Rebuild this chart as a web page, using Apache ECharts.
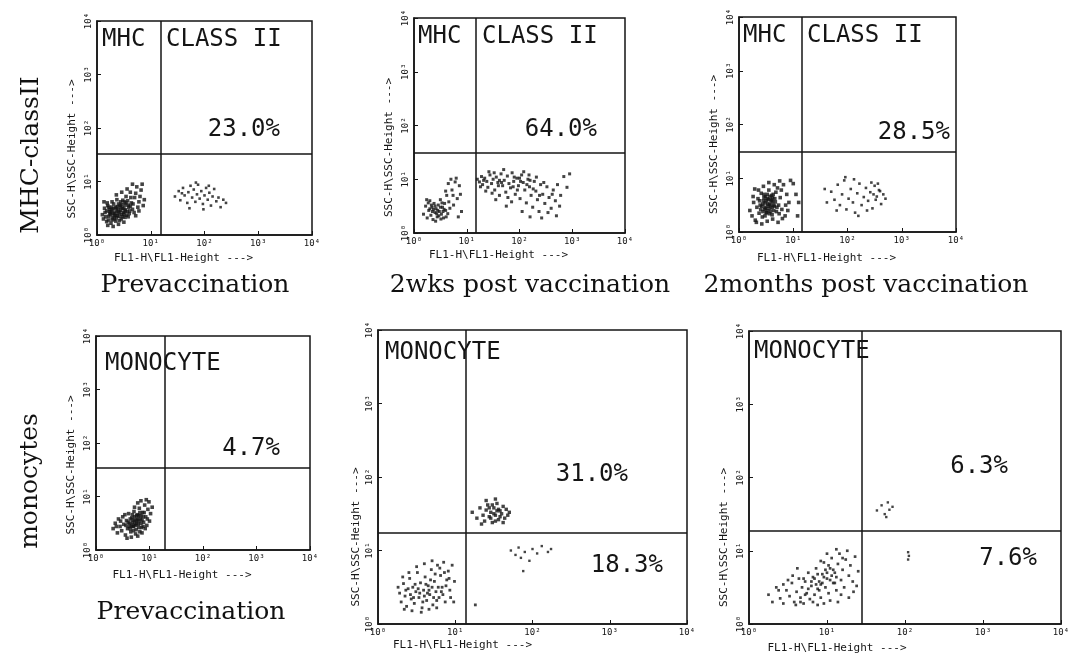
<!DOCTYPE html>
<html><head><meta charset="utf-8">
<script src="https://cdn.jsdelivr.net/npm/echarts@6/dist/echarts.min.js"></script>
<style>html,body{margin:0;padding:0;background:#fff}#c{width:1073px;height:657px}</style>
</head><body><div id="c"></div>
<script>
// ---- DATA (all positions on the axes are log10 decades: 0 = 10^0 ... 4 = 10^4) ----
const tickLabels = ['10⁰', '10¹', '10²', '10³', '10⁴'];
const xAxisName = 'FL1-H\\FL1-Height --->';
const yAxisName = 'SSC-H\\SSC-Height --->';
const rowLabels = ['MHC-classII', 'monocytes'];
const captions = ['Prevaccination', '2wks post vaccination', '2months post vaccination', 'Prevaccination'];
const gateTitles = [['MHC', 'CLASS II'], ['MHC', 'CLASS II'], ['MHC', 'CLASS II'], ['MONOCYTE'], ['MONOCYTE'], ['MONOCYTE']];
const percentLabels = [['23.0%'], ['64.0%'], ['28.5%'], ['4.7%'], ['31.0%', '18.3%'], ['6.3%', '7.6%']];
const gateX = [1.19, 1.18, 1.16, 1.29, 1.14, 1.44];
const gateY = [1.51, 1.49, 1.49, 1.53, 1.24, 1.27];

const p1Neg = [[0.12,0.30],[0.15,0.42],[0.18,0.25],[0.20,0.55],[0.22,0.35],[0.24,0.48],[0.26,0.22],[0.28,0.62],[0.30,0.40],[0.32,0.30],[0.34,0.52],[0.36,0.44],[0.38,0.36],[0.40,0.58],[0.42,0.27],[0.44,0.46],[0.46,0.38],[0.48,0.65],[0.50,0.50],[0.52,0.33],[0.54,0.72],[0.56,0.44],[0.58,0.56],[0.60,0.40],[0.62,0.80],[0.64,0.60],[0.66,0.48],[0.70,0.70],[0.74,0.90],[0.78,0.62],[0.82,0.84],[0.86,0.55],
 [0.14,0.50],[0.16,0.34],[0.19,0.60],[0.21,0.28],[0.23,0.44],[0.25,0.38],[0.27,0.52],[0.29,0.32],[0.31,0.58],[0.33,0.41],[0.35,0.26],[0.37,0.66],[0.39,0.47],[0.41,0.35],[0.43,0.55],[0.45,0.30],[0.47,0.50],[0.49,0.42],[0.51,0.62],[0.53,0.47],[0.55,0.37],[0.57,0.64],[0.59,0.52],[0.61,0.45],[0.63,0.70],[0.67,0.58],[0.69,0.42],[0.72,0.78],[0.76,0.52],[0.80,0.72],[0.84,0.95],[0.88,0.66],
 [0.18,0.45],[0.22,0.52],[0.26,0.43],[0.30,0.49],[0.34,0.37],[0.38,0.53],[0.42,0.43],[0.46,0.57],[0.50,0.39],[0.54,0.60],[0.58,0.34],[0.62,0.54],[0.20,0.18],[0.30,0.16],[0.40,0.20],[0.50,0.24],[0.36,0.75],[0.46,0.80],[0.56,0.86],[0.66,0.95],[0.10,0.38],[0.13,0.62],[0.72,0.36],[0.78,0.45],
 [0.24,0.40],[0.28,0.46],[0.32,0.36],[0.36,0.50],[0.40,0.41],[0.44,0.52],[0.48,0.34],[0.52,0.56],[0.28,0.28],[0.36,0.32],[0.44,0.62],[0.52,0.44]];
const p1Pos = [[1.45,0.72],[1.52,0.82],[1.55,0.65],[1.60,0.88],[1.63,0.74],[1.68,0.60],[1.70,0.80],[1.74,0.92],[1.77,0.70],[1.80,0.85],[1.83,0.62],[1.86,0.76],[1.88,0.94],[1.91,0.68],[1.94,0.82],[1.97,0.58],[2.00,0.74],[2.03,0.88],[2.06,0.66],[2.09,0.79],[2.12,0.55],[2.15,0.72],[2.18,0.86],[2.22,0.63],[2.26,0.70],[2.30,0.52],[2.35,0.66],[2.40,0.60],[1.72,0.50],[1.98,0.48],[1.58,0.78],[1.84,0.98],[2.08,0.92]];

const p2Neg = [[0.18,0.35],[0.22,0.50],[0.25,0.28],[0.28,0.42],[0.30,0.60],[0.32,0.33],[0.34,0.48],[0.36,0.25],[0.38,0.55],[0.40,0.38],[0.42,0.45],[0.44,0.30],[0.46,0.52],[0.48,0.40],[0.50,0.62],[0.52,0.35],[0.54,0.48],[0.56,0.28],[0.58,0.55],[0.60,0.42],[0.62,0.70],[0.64,0.36],[0.66,0.58],[0.68,0.46],[0.72,0.80],[0.75,0.52],[0.78,0.95],[0.82,0.64],[0.86,0.88],[0.90,0.40],
 [0.30,0.45],[0.35,0.40],[0.40,0.50],[0.45,0.42],[0.50,0.48],[0.55,0.40],[0.33,0.52],[0.43,0.36],[0.53,0.56],[0.47,0.32],[0.37,0.44],[0.27,0.56],[0.57,0.44],[0.61,0.30],[0.65,0.92],[0.70,1.00],[0.80,1.02],[0.84,0.30],[0.24,0.62],[0.41,0.22],[0.51,0.26],[0.60,0.78],[0.74,0.70],[0.88,0.72]];
const p2Pos = [[1.20,1.00],[1.24,0.95],[1.28,1.05],[1.30,0.90],[1.34,1.02],[1.38,0.96],[1.40,0.85],[1.44,1.08],[1.47,0.92],[1.50,1.00],[1.53,0.80],[1.56,1.04],[1.59,0.94],[1.62,0.70],[1.65,1.10],[1.68,0.88],[1.71,0.98],[1.74,0.76],[1.77,1.06],[1.80,0.92],[1.83,0.84],[1.86,1.12],[1.89,0.96],[1.92,0.72],[1.95,1.02],[1.98,0.88],[2.01,0.64],[2.04,1.08],[2.07,0.94],[2.10,0.80],[2.13,0.56],[2.16,1.00],[2.19,0.86],[2.22,0.70],[2.25,0.48],[2.28,0.96],[2.31,0.78],[2.34,0.62],[2.37,0.40],[2.40,0.90],[2.44,0.72],[2.48,0.55],[2.52,0.86],[2.56,0.66],[2.60,0.46],[2.64,0.80],[2.68,0.60],[2.72,0.90],[2.78,0.70],[2.84,1.05],[2.90,0.85],[2.95,1.10],
 [1.36,0.78],[1.42,1.14],[1.48,0.74],[1.55,0.62],[1.62,0.98],[1.70,1.18],[1.78,0.66],[1.85,0.58],[1.90,1.04],[1.96,0.80],[2.02,0.96],[2.08,1.14],[2.14,0.90],[2.20,0.98],[2.26,0.82],[2.32,1.04],[2.38,0.70],[2.46,0.94],[2.54,0.38],[2.62,0.72],[2.70,0.32],[2.76,0.50],[2.20,0.30],[2.42,0.28],[2.05,0.40],[1.75,0.50],[1.60,0.88],[1.52,1.12],[1.32,0.98],[1.26,0.86],[2.00,1.02],[2.18,1.08],[1.88,0.86],[1.66,0.94]];

const p3Neg = [[0.20,0.40],[0.24,0.30],[0.27,0.55],[0.30,0.22],[0.33,0.46],[0.35,0.62],[0.37,0.35],[0.39,0.50],[0.41,0.72],[0.43,0.28],[0.45,0.58],[0.47,0.42],[0.49,0.66],[0.51,0.36],[0.53,0.52],[0.55,0.78],[0.57,0.44],[0.59,0.60],[0.61,0.32],[0.63,0.70],[0.65,0.48],[0.67,0.56],[0.69,0.38],[0.71,0.82],[0.73,0.50],[0.76,0.64],[0.79,0.42],[0.82,0.88],[0.85,0.30],[0.88,0.70],[0.92,0.55],[0.95,0.96],
 [0.38,0.58],[0.42,0.48],[0.46,0.64],[0.50,0.44],[0.54,0.60],[0.58,0.50],[0.62,0.56],[0.66,0.62],[0.40,0.42],[0.44,0.38],[0.48,0.54],[0.52,0.70],[0.56,0.34],[0.60,0.68],[0.64,0.40],[0.68,0.74],[0.36,0.78],[0.45,0.85],[0.55,0.92],[0.65,0.88],[0.75,0.95],[0.32,0.18],[0.42,0.15],[0.52,0.20],[0.62,0.24],[0.72,0.18],[0.80,0.25],[0.26,0.66],[0.29,0.80],[0.48,0.30],[0.58,0.38],[0.70,0.46],[0.74,0.34],[0.86,0.50],[0.90,0.40],[0.78,0.78],[0.50,0.58],[0.57,0.66],[0.61,0.46],[0.53,0.40],[1.05,0.70],[1.10,0.55],[1.00,0.90],[1.08,0.30],
 [0.44,0.52],[0.48,0.46],[0.52,0.62],[0.56,0.52],[0.60,0.58],[0.64,0.50],[0.46,0.70],[0.54,0.48],[0.62,0.64],[0.50,0.36]];
const p3Pos = [[1.70,0.75],[1.76,0.60],[1.82,0.88],[1.86,0.50],[1.90,0.70],[1.94,0.96],[1.98,0.42],[2.02,0.62],[2.06,0.80],[2.10,0.55],[2.14,0.36],[2.18,0.72],[2.22,0.90],[2.26,0.50],[2.30,0.65],[2.34,0.82],[2.38,0.58],[2.42,0.74],[2.46,0.44],[2.50,0.86],[2.54,0.66],[2.58,0.78],[2.62,0.52],[2.66,0.70],[2.70,0.62],[2.44,0.92],[2.36,0.40],[2.20,0.30],[1.96,1.02],[1.80,0.40],[2.12,0.98],[2.52,0.60],[2.56,0.90],[2.60,0.76],[1.58,0.80],[1.62,0.55],[2.48,0.70]];

const p4Neg = [[0.32,0.40],[0.36,0.50],[0.40,0.32],[0.42,0.58],[0.45,0.44],[0.48,0.36],[0.50,0.62],[0.52,0.48],[0.55,0.28],[0.57,0.55],[0.59,0.40],[0.61,0.68],[0.63,0.50],[0.65,0.34],[0.67,0.60],[0.69,0.44],[0.71,0.72],[0.73,0.54],[0.75,0.38],[0.77,0.66],[0.79,0.48],[0.81,0.78],[0.83,0.58],[0.85,0.42],[0.87,0.70],[0.89,0.52],[0.91,0.84],[0.93,0.62],[0.95,0.46],[0.97,0.76],[0.99,0.90],[1.02,0.68],[1.05,0.80],
 [0.60,0.52],[0.64,0.58],[0.68,0.52],[0.72,0.62],[0.76,0.56],[0.80,0.64],[0.84,0.50],[0.88,0.62],[0.62,0.44],[0.66,0.46],[0.70,0.56],[0.74,0.46],[0.78,0.58],[0.82,0.70],[0.86,0.56],[0.90,0.70],[0.70,0.36],[0.74,0.30],[0.78,0.26],[0.82,0.34],[0.86,0.32],[0.66,0.24],[0.58,0.22],[0.72,0.80],[0.78,0.88],[0.84,0.92],[0.94,0.94],[0.54,0.66],[0.46,0.54],[0.38,0.44],[0.92,0.40],[0.96,0.58],[1.00,0.54],[0.56,0.46],[0.76,0.50],[0.80,0.42],
 [0.68,0.66],[0.72,0.48],[0.76,0.64],[0.80,0.54],[0.84,0.64],[0.88,0.44],[0.64,0.40],[0.70,0.44]];

const p5Neg = [[0.28,0.42],[0.30,0.30],[0.33,0.55],[0.35,0.38],[0.37,0.24],[0.39,0.48],[0.41,0.62],[0.43,0.34],[0.45,0.50],[0.47,0.28],[0.49,0.44],[0.51,0.70],[0.53,0.36],[0.55,0.56],[0.57,0.22],[0.59,0.46],[0.61,0.64],[0.63,0.32],[0.65,0.52],[0.67,0.40],[0.69,0.74],[0.71,0.26],[0.73,0.58],[0.75,0.44],[0.77,0.80],[0.79,0.36],[0.81,0.66],[0.83,0.50],[0.85,0.84],[0.87,0.30],[0.89,0.60],[0.91,0.72],[0.93,0.46],[0.96,0.80],[0.99,0.58],
 [0.36,0.46],[0.42,0.40],[0.48,0.54],[0.54,0.42],[0.60,0.38],[0.66,0.46],[0.72,0.36],[0.78,0.50],[0.84,0.40],[0.46,0.36],[0.52,0.48],[0.58,0.30],[0.64,0.42],[0.70,0.50],[0.76,0.32],[0.82,0.44],[0.88,0.52],[0.62,0.54],[0.68,0.60],[0.74,0.68],[0.80,0.76],[0.86,0.70],[0.92,0.62],[0.34,0.20],[0.44,0.18],[0.56,0.16],[0.66,0.20],[0.76,0.22],[0.40,0.70],[0.50,0.78],[0.60,0.82],[0.70,0.86],[0.94,0.36],[0.98,0.30],[0.26,0.50],[0.32,0.64],[1.26,0.26]];
const p5Upper = [[1.22,1.52],[1.28,1.44],[1.32,1.58],[1.36,1.48],[1.38,1.40],[1.40,1.55],[1.42,1.62],[1.44,1.46],[1.46,1.52],[1.48,1.38],[1.50,1.58],[1.52,1.48],[1.54,1.64],[1.56,1.42],[1.58,1.54],[1.60,1.50],[1.62,1.60],[1.64,1.44],[1.66,1.56],[1.68,1.48],[1.46,1.44],[1.50,1.50],[1.54,1.54],[1.44,1.58],[1.52,1.40],[1.58,1.46],[1.48,1.62],[1.56,1.56],[1.34,1.36],[1.62,1.38],[1.70,1.52],[1.40,1.68],[1.52,1.70]];
const p5Lower = [[1.72,1.00],[1.78,0.94],[1.82,1.04],[1.85,0.90],[1.90,0.98],[1.96,0.86],[2.00,1.02],[2.06,0.96],[2.12,1.06],[2.20,0.98],[1.88,0.72],[2.24,1.02]];

const p6Neg = [[0.25,0.40],[0.30,0.30],[0.35,0.50],[0.40,0.35],[0.44,0.28],[0.48,0.46],[0.52,0.38],[0.55,0.56],[0.58,0.30],[0.61,0.44],[0.64,0.62],[0.66,0.36],[0.68,0.50],[0.70,0.28],[0.72,0.58],[0.74,0.42],[0.76,0.70],[0.78,0.34],[0.80,0.52],[0.82,0.64],[0.84,0.40],[0.86,0.76],[0.88,0.48],[0.90,0.58],[0.92,0.36],[0.94,0.68],[0.96,0.84],[0.98,0.50],[1.00,0.62],[1.02,0.42],[1.04,0.76],[1.06,0.90],[1.08,0.56],[1.10,0.70],[1.12,0.46],[1.14,0.82],[1.16,0.96],[1.18,0.60],[1.20,0.74],[1.22,0.50],[1.24,0.88],[1.26,1.00],[1.28,0.66],[1.30,0.80],[1.33,0.58],[1.36,0.92],[1.40,0.72],
 [0.80,0.58],[0.84,0.62],[0.88,0.68],[0.92,0.54],[0.96,0.64],[1.00,0.70],[1.04,0.60],[1.08,0.74],[1.12,0.64],[0.86,0.54],[0.90,0.46],[0.94,0.56],[0.98,0.74],[1.02,0.80],[1.06,0.66],[1.10,0.56],[0.76,0.48],[0.72,0.40],[0.70,0.62],[0.66,0.30],[0.60,0.26],[0.96,0.28],[1.04,0.32],[1.18,0.40],[1.28,0.36],[1.34,0.44],[1.38,0.52],[0.50,0.60],[0.56,0.66],[0.62,0.76],[1.00,0.96],[1.12,1.02],[1.20,0.90],[0.92,0.86],[0.82,0.30],[0.88,0.26],[1.14,0.30],[0.44,0.54],[0.38,0.46]];
const p6Upper = [[1.64,1.55],[1.70,1.62],[1.74,1.50],[1.78,1.66],[1.80,1.56],[1.84,1.60],[1.76,1.46]];
const p6Lower = [[2.04,0.98],[2.04,0.88],[2.05,0.93]];

const panelPoints = [
  [p1Neg, p1Pos], [p2Neg, p2Pos], [p3Neg, p3Pos],
  [p4Neg], [p5Neg, p5Upper, p5Lower], [p6Neg, p6Upper, p6Lower]
];

// ---- LAYOUT / STYLE ----
const dotSizes = [[3.6, 2.6], [3.0, 3.0], [3.6, 2.6], [3.6], [2.8, 3.4, 2.4], [2.7, 2.4, 2.4]];
const grids = [
  {left: 97, top: 21, width: 215, height: 214},
  {left: 414, top: 18, width: 211, height: 215},
  {left: 739, top: 17, width: 217, height: 215},
  {left: 96, top: 336, width: 214, height: 214},
  {left: 378, top: 330, width: 309, height: 294},
  {left: 749, top: 331, width: 312, height: 293}
];
const xNameShift = [21, 21, 21, 21, 70, 68];
const yNameShift = [21, 22, 20, 22, 60, 60];
const xNameGap = [18, 17, 21, 20, 16, 19];
const yNameGap = [19, 19, 19, 19, 16, 19];
const titlePos = [[[102, 40], [166, 40]], [[418, 37], [482, 37]], [[743, 36], [807, 36]], [[105, 364]], [[385, 353]], [[754, 352]]];
const pctPos = [[[280, 130]], [[597, 130]], [[950, 133]], [[280, 449]], [[628, 475], [663, 566]], [[1008, 467], [1037, 559]]];
const captionPos = [[195, 285], [530, 285], [866, 285], [191, 612]];
const rowLabelPos = [[31, 155], [30, 481]];

const INK = '#151515';
const MONO = '"DejaVu Sans Mono", monospace';
const SERIF = '"DejaVu Serif", serif';

const xAxes = [], yAxes = [], series = [], graphics = [];
grids.forEach((g, i) => {
  const common = {
    type: 'value', min: 0, max: 4, interval: 1, gridIndex: i,
    axisLine: {show: true, lineStyle: {color: INK, width: 1.5}},
    axisTick: {show: true, inside: true, length: 4, lineStyle: {color: INK}},
    splitLine: {show: false},
    nameLocation: 'middle'
  };
  xAxes.push(Object.assign({}, common, {
    name: xAxisName, nameGap: xNameGap[i],
    nameTextStyle: {fontFamily: MONO, fontSize: 11, color: INK, padding: [0, 2 * xNameShift[i], 0, 0]},
    axisLabel: {formatter: v => tickLabels[v], fontFamily: MONO, fontSize: 9, color: INK, margin: 4}
  }));
  yAxes.push(Object.assign({}, common, {
    name: yAxisName, nameGap: yNameGap[i],
    nameTextStyle: {fontFamily: MONO, fontSize: 11, color: INK, padding: [0, 2 * yNameShift[i], 0, 0]},
    axisLabel: {formatter: v => tickLabels[v], fontFamily: MONO, fontSize: 9, color: INK, margin: 4, rotate: 90}
  }));
  panelPoints[i].forEach((pts, k) => {
    const s = {
      type: 'scatter', xAxisIndex: i, yAxisIndex: i, data: pts,
      symbol: 'rect', symbolSize: dotSizes[i][k], itemStyle: {color: INK},
      silent: true
    };
    if (k === 0) {
      s.markLine = {
        silent: true, symbol: ['none', 'none'], label: {show: false},
        lineStyle: {color: INK, width: 1.5, type: 'solid'},
        data: [{xAxis: gateX[i]}, {yAxis: gateY[i]}]
      };
    }
    series.push(s);
  });
  gateTitles[i].forEach((t, k) => {
    graphics.push({type: 'text', x: titlePos[i][k][0], y: titlePos[i][k][1],
      style: {text: t, font: '24px ' + MONO, fill: INK, textAlign: 'left', textVerticalAlign: 'middle'}});
  });
  percentLabels[i].forEach((t, k) => {
    graphics.push({type: 'text', x: pctPos[i][k][0], y: pctPos[i][k][1],
      style: {text: t, font: '24px ' + MONO, fill: INK, textAlign: 'right', textVerticalAlign: 'middle'}});
  });
});
captions.forEach((t, k) => {
  graphics.push({type: 'text', x: captionPos[k][0], y: captionPos[k][1],
    style: {text: t, font: '25px ' + SERIF, fill: '#111', textAlign: 'center', textVerticalAlign: 'middle'}});
});
rowLabels.forEach((t, k) => {
  graphics.push({type: 'text', x: rowLabelPos[k][0], y: rowLabelPos[k][1], rotation: Math.PI / 2,
    style: {text: t, font: '25px ' + SERIF, fill: '#111', textAlign: 'center', textVerticalAlign: 'middle'}});
});

const chart = echarts.init(document.getElementById('c'), null, {renderer: 'canvas'});
chart.setOption({
  animation: false,
  backgroundColor: '#ffffff',
  grid: grids.map(g => Object.assign({show: true, borderColor: INK, borderWidth: 1.5, backgroundColor: 'transparent', containLabel: false}, g)),
  xAxis: xAxes,
  yAxis: yAxes,
  series: series,
  graphic: graphics
});
</script>
</body></html>
